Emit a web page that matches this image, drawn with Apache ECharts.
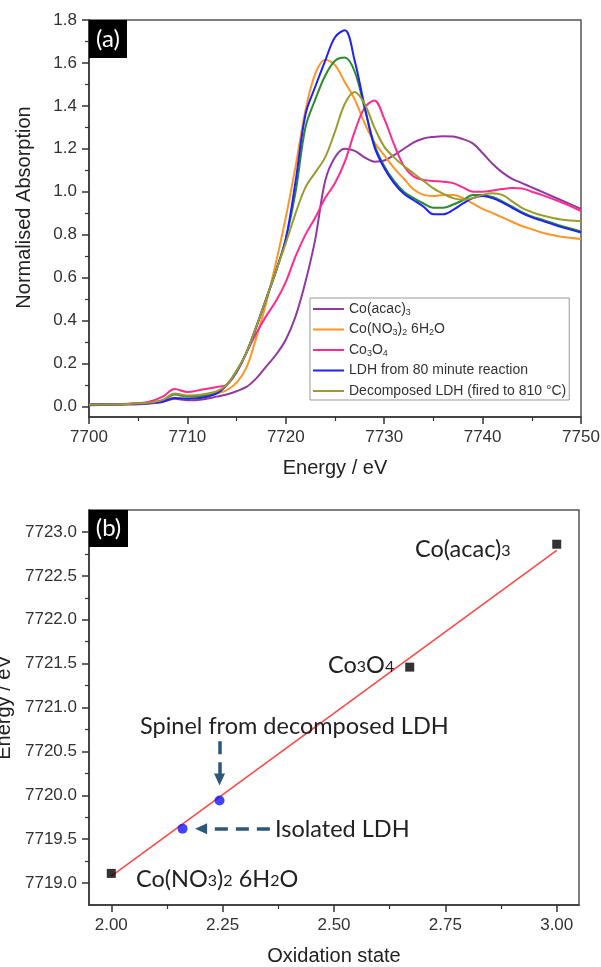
<!DOCTYPE html>
<html>
<head>
<meta charset="utf-8">
<script src="https://cdn.jsdelivr.net/npm/echarts@6/dist/echarts.min.js"></script>
<style>
  html, body { margin: 0; padding: 0; background: #fff; }
  #chart { width: 601px; height: 967px; }
</style>
</head>
<body>
<div id="chart"></div>
<script>
// ---- Panel (a): Co K-edge XANES spectra ----
const energy = [7700, 7704, 7706, 7707.5, 7708.7, 7710, 7711.5, 7713, 7714, 7715,
  7716, 7717, 7718, 7719, 7720, 7721, 7722, 7723, 7724, 7725,
  7726, 7727, 7728, 7729, 7730, 7731, 7732, 7733, 7734, 7735,
  7736, 7737, 7738, 7739, 7740, 7741, 7742, 7743, 7744, 7745,
  7746, 7748, 7750];

const coAcac = [0.005, 0.008, 0.012, 0.02, 0.035, 0.028, 0.032, 0.045, 0.055, 0.07,
  0.09, 0.13, 0.185, 0.24, 0.31, 0.42, 0.58, 0.78, 1.05, 1.16,
  1.2, 1.19, 1.16, 1.14, 1.145, 1.17, 1.2, 1.23, 1.248, 1.255,
  1.258, 1.257, 1.245, 1.225, 1.18, 1.13, 1.09, 1.06, 1.04, 1.02,
  1.0, 0.96, 0.92];

const coNitrate = [0.008, 0.01, 0.015, 0.025, 0.04, 0.035, 0.04, 0.06, 0.075, 0.11,
  0.18, 0.32, 0.48, 0.67, 0.88, 1.12, 1.38, 1.55, 1.615, 1.59,
  1.51, 1.43, 1.32, 1.23, 1.17, 1.11, 1.06, 1.01, 0.985, 0.98,
  0.985, 0.985, 0.97, 0.945, 0.92, 0.9, 0.88, 0.86, 0.84, 0.825,
  0.81, 0.79, 0.78];

const co3o4 = [0.008, 0.012, 0.02, 0.045, 0.08, 0.066, 0.078, 0.09, 0.1, 0.16,
  0.25, 0.34, 0.42, 0.49, 0.58, 0.7, 0.8, 0.88, 0.97, 1.04,
  1.14, 1.28, 1.39, 1.425, 1.34, 1.22, 1.12, 1.07, 1.055, 1.05,
  1.046, 1.04, 1.02, 1.0, 1.0, 1.005, 1.012, 1.017, 1.015, 1.0,
  0.985, 0.95, 0.91];

const ldh80 = [0.008, 0.01, 0.014, 0.022, 0.038, 0.035, 0.04, 0.06, 0.1, 0.16,
  0.25, 0.37, 0.5, 0.63, 0.78, 1.05, 1.36, 1.49, 1.61, 1.72,
  1.752, 1.61, 1.4, 1.21, 1.11, 1.04, 0.99, 0.96, 0.93, 0.895,
  0.895, 0.915, 0.945, 0.97, 0.98, 0.97, 0.95, 0.925, 0.9, 0.88,
  0.865, 0.835, 0.81];

const unlabelled = [0.008, 0.01, 0.015, 0.028, 0.055, 0.045, 0.048, 0.065, 0.1, 0.165,
  0.25, 0.37, 0.5, 0.63, 0.78, 1.0, 1.3, 1.43, 1.54, 1.61,
  1.625, 1.56, 1.39, 1.22, 1.12, 1.05, 1.0, 0.97, 0.945, 0.925,
  0.925, 0.94, 0.96, 0.985, 0.985, 0.975, 0.955, 0.93, 0.905, 0.885,
  0.87, 0.84, 0.815];

const ldhFired = [0.008, 0.011, 0.016, 0.03, 0.06, 0.05, 0.055, 0.07, 0.1, 0.165,
  0.25, 0.37, 0.5, 0.63, 0.76, 0.9, 1.02, 1.09, 1.16, 1.28,
  1.41, 1.465, 1.41, 1.3, 1.21, 1.16, 1.12, 1.085, 1.05, 1.015,
  0.99, 0.97, 0.962, 0.97, 0.985, 0.993, 0.985, 0.955, 0.925, 0.905,
  0.89, 0.87, 0.862];

const spectraNames = [
  'Co(acac){s|3}',
  'Co(NO{s|3}){s|2} 6H{s|2}O',
  'Co{s|3}O{s|4}',
  'LDH from 80 minute reaction',
  'Decomposed LDH (fired to 810 °C)'
];
const unlabelledName = 'Unlabelled trace';

const energyTicks = [7700, 7710, 7720, 7730, 7740, 7750];
const energyMinor = [7705, 7715, 7725, 7735, 7745];
const absTicks = [0, 0.2, 0.4, 0.6, 0.8, 1.0, 1.2, 1.4, 1.6, 1.8];
const absMinor = [0.1, 0.3, 0.5, 0.7, 0.9, 1.1, 1.3, 1.5, 1.7];

// ---- Panel (b): edge energy vs oxidation state ----
const refOx = [2.0, 2.67, 3.0];
const refEdge = [7719.11, 7721.46, 7722.86];
const sampleOx = [2.16, 2.243];
const sampleEdge = [7719.62, 7719.94];
const fitOx = [2.0, 3.0];
const fitEdge = [7719.08, 7722.79];

const oxTicks = [2.0, 2.25, 2.5, 2.75, 3.0];
const oxMinor = [2.125, 2.375, 2.625, 2.875];
const edgeTicks = [7719.0, 7719.5, 7720.0, 7720.5, 7721.0, 7721.5, 7722.0, 7722.5, 7723.0];
const edgeMinor = [7719.25, 7719.75, 7720.25, 7720.75, 7721.25, 7721.75, 7722.25, 7722.75];

const pair = (xs, ys) => xs.map((x, i) => [x, ys[i]]);

const AXIS_FONT = '"Liberation Sans", Arial, sans-serif';
const NOTE_FONT = 'Lato, "Open Sans", sans-serif';
const axisColor = '#333';

function mainAxis(gridIndex, min, max, ticks, digits, extra) {
  return Object.assign({
    type: 'value', gridIndex, min, max,
    axisLine: { show: true, onZero: false, lineStyle: { color: axisColor, width: 1.5 } },
    axisTick: { show: true, inside: false, length: 7, customValues: ticks,
      lineStyle: { color: axisColor, width: 1.5 } },
    axisLabel: { show: true, customValues: ticks, margin: 12,
      formatter: v => v.toFixed(digits),
      fontFamily: AXIS_FONT, fontSize: 17, color: '#333' },
    splitLine: { show: false },
    nameLocation: 'middle',
    nameTextStyle: { fontFamily: AXIS_FONT, fontSize: 20, color: '#222' }
  }, extra);
}
function minorAxis(gridIndex, min, max, ticks, position) {
  return {
    type: 'value', gridIndex, min, max, position,
    axisLine: { show: false, onZero: false },
    axisTick: { show: true, inside: false, length: 4, customValues: ticks,
      lineStyle: { color: axisColor, width: 1.2 } },
    axisLabel: { show: false },
    splitLine: { show: false }
  };
}

const spectra = [
  { name: spectraNames[0], data: coAcac, color: '#92399F' },
  { name: spectraNames[1], data: coNitrate, color: '#FF9526' },
  { name: spectraNames[2], data: co3o4, color: '#FF2A90' },
  { name: unlabelledName, data: unlabelled, color: '#2A8C2A' },
  { name: spectraNames[3], data: ldh80, color: '#1F1FFF' },
  { name: spectraNames[4], data: ldhFired, color: '#9B9B30' }
];

const chart = echarts.init(document.getElementById('chart'));

const option = {
  animation: false,
  backgroundColor: '#fff',
  grid: [
    { left: 89, top: 20, width: 492, height: 397, show: true, outerBoundsMode: 'none', containLabel: false,
      borderColor: '#555', borderWidth: 1.5, backgroundColor: 'transparent' },
    { left: 89, top: 510, width: 490, height: 395, show: true, outerBoundsMode: 'none', containLabel: false,
      borderColor: '#555', borderWidth: 1.5, backgroundColor: 'transparent' }
  ],
  xAxis: [
    mainAxis(0, 7700, 7750, energyTicks, 0, { position: 'bottom', name: 'Energy / eV', nameGap: 41 }),
    minorAxis(0, 7700, 7750, energyMinor, 'bottom'),
    mainAxis(1, 1.95, 3.05, oxTicks, 2, { position: 'bottom', name: 'Oxidation state', nameGap: 41 }),
    minorAxis(1, 1.95, 3.05, oxMinor, 'bottom')
  ],
  yAxis: [
    mainAxis(0, -0.05, 1.8, absTicks, 1, { position: 'left', name: 'Normalised Absorption', nameGap: 55,
      nameTextStyle: { fontFamily: AXIS_FONT, fontSize: 20, color: '#222', padding: [0, 0, 0, 22] } }),
    minorAxis(0, -0.05, 1.8, absMinor, 'left'),
    mainAxis(1, 7718.75, 7723.25, edgeTicks, 1, { position: 'left', name: 'Energy / eV', nameGap: 65 }),
    minorAxis(1, 7718.75, 7723.25, edgeMinor, 'left')
  ],
  legend: {
    data: spectraNames,
    orient: 'vertical',
    left: 310, top: 298,
    padding: [3, 3, 1, 3],
    itemGap: 4.5,
    itemWidth: 31, itemHeight: 2,
    icon: 'rect',
    borderColor: '#999', borderWidth: 1,
    backgroundColor: '#fff',
    selectedMode: false,
    formatter: name => name,
    textStyle: {
      fontFamily: AXIS_FONT, fontSize: 14, color: '#333', lineHeight: 16,
      rich: { s: { fontFamily: AXIS_FONT, fontSize: 9, color: '#333', lineHeight: 8, verticalAlign: 'bottom' } }
    }
  },
  series: [
    ...spectra.map(s => ({
      type: 'line', name: s.name, xAxisIndex: 0, yAxisIndex: 0,
      data: pair(energy, s.data), smooth: 0.35, showSymbol: false, symbol: 'none',
      lineStyle: { color: s.color, width: 2 }, itemStyle: { color: s.color },
      emphasis: { disabled: true }, silent: true
    })),
    {
      type: 'line', name: 'Linear fit', xAxisIndex: 2, yAxisIndex: 2,
      data: pair(fitOx, fitEdge), showSymbol: false, symbol: 'none',
      lineStyle: { color: '#FF4545', width: 1.5 }, silent: true, z: 2
    },
    {
      type: 'scatter', name: 'References', xAxisIndex: 2, yAxisIndex: 2,
      data: pair(refOx, refEdge), symbol: 'rect', symbolSize: 9,
      itemStyle: { color: '#000' }, silent: true, z: 3
    },
    {
      type: 'scatter', name: 'Samples', xAxisIndex: 2, yAxisIndex: 2,
      data: pair(sampleOx, sampleEdge), symbol: 'circle', symbolSize: 10,
      itemStyle: { color: '#1414FF' }, silent: true, z: 3,
      markLine: {
        silent: true, animation: false,
        symbol: ['none', 'triangle'], symbolSize: [11, 12],
        label: { show: false },
        lineStyle: { color: '#2D5778', width: 3.5, type: [13, 8], opacity: 1 },
        emphasis: { disabled: true },
        data: [
          [{ coord: [2.243, 7720.615] }, { coord: [2.243, 7720.18] }],
          [{ coord: [2.356, 7719.62] }, { coord: [2.2017, 7719.62] }]
        ]
      }
    }
  ],
  graphic: [
    { type: 'rect', left: 89, top: 20, shape: { width: 38, height: 38 }, style: { fill: '#000' }, z: 50 },
    { type: 'text', x: 108, y: 39, z: 51,
      style: { text: '(a)', fill: '#fff', font: '24px ' + NOTE_FONT, align: 'center', verticalAlign: 'middle' } },
    { type: 'rect', left: 89, top: 510, shape: { width: 39, height: 37 }, style: { fill: '#000' }, z: 50 },
    { type: 'text', x: 108.5, y: 528.5, z: 51,
      style: { text: '(b)', fill: '#fff', font: '24px ' + NOTE_FONT, align: 'center', verticalAlign: 'middle' } }
  ]
};

// Annotation text for panel (b); every run of characters is a rich token so the
// subscripts can sit lower than the main line.
const noteRich = {
  m: { fontFamily: NOTE_FONT, fontSize: 23.5, fill: '#222', lineHeight: 22, verticalAlign: 'top' },
  s: { fontFamily: NOTE_FONT, fontSize: 16, fill: '#222', lineHeight: 2, verticalAlign: 'bottom' }
};
const notes = [
  { text: '{m|Co(acac)}{s|3}', x: 415, y: 548 },
  { text: '{m|Co}{s|3}{m|O}{s|4}', x: 328, y: 664 },
  { text: '{m|Co(NO}{s|3}{m|)}{s|2}{m| 6H}{s|2}{m|O}', x: 136, y: 878 },
  { text: '{m|Spinel from decomposed LDH}', x: 140, y: 725 },
  { text: '{m|Isolated LDH}', x: 275, y: 828 }
];
notes.forEach(n => option.graphic.push({
  type: 'text', x: n.x, y: n.y, z: 40,
  style: { text: n.text, fill: '#222', font: '23.5px ' + NOTE_FONT,
    align: 'left', verticalAlign: 'middle', rich: noteRich }
}));

chart.setOption(option);
</script>
</body>
</html>
